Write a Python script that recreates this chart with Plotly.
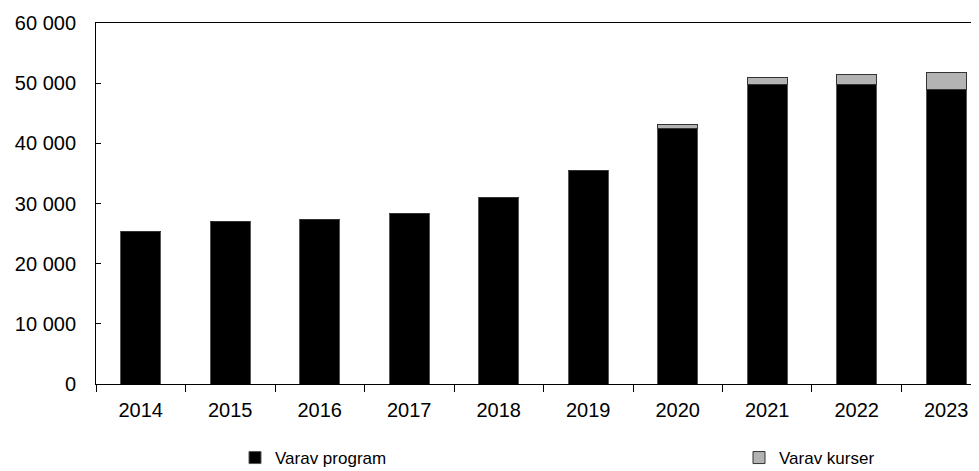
import plotly.graph_objects as go

years = ["2014", "2015", "2016", "2017", "2018", "2019", "2020", "2021", "2022", "2023"]
program = [25300, 27000, 27300, 28400, 31000, 35500, 42500, 49800, 49800, 48900]
kurser = [0, 0, 0, 0, 0, 0, 600, 1200, 1700, 2900]

FONT = "Liberation Sans, Arial, sans-serif"
# the page body has an 8px margin, so the figure is offset by 8px
OFF = 8
FIG_W = 979 - OFF
FIG_H = 471 - OFF
M_L = 96 - OFF
M_T = 23 - OFF
PLOT_W = FIG_W - M_L
PLOT_H = 384 - 23
M_B = FIG_H - M_T - PLOT_H

fig = go.Figure()
fig.add_trace(go.Bar(
    x=years, y=program, name="Varav program",
    marker=dict(color="#000000", line=dict(color="#555555", width=1)),
    width=0.45, legend="legend",
))
fig.add_trace(go.Bar(
    x=years, y=kurser, name="Varav kurser",
    marker=dict(color="#b3b3b3", line=dict(color="#333333", width=1)),
    width=0.45, legend="legend2",
))

leg_common = dict(
    orientation="h",
    y=-(458 - 384) / PLOT_H, yanchor="middle",
    xanchor="left",
    font=dict(family=FONT, size=17, color="#000000"),
    bgcolor="rgba(0,0,0,0)",
)

fig.update_layout(
    barmode="stack",
    width=FIG_W, height=FIG_H,
    margin=dict(l=M_L, r=0, t=M_T, b=M_B, autoexpand=False),
    paper_bgcolor="white", plot_bgcolor="white",
    font=dict(family=FONT, size=20, color="#000000"),
    separators=", ",
    showlegend=True,
    legend=dict(x=(235 - 96) / PLOT_W, **leg_common),
    legend2=dict(x=(739 - 96) / PLOT_W, **leg_common),
    xaxis=dict(
        type="category",
        range=[-0.5, 9.366],
        showline=True, linecolor="#000000", linewidth=1, mirror=True,
        ticks="outside", ticklen=7, tickcolor="#000000", tickwidth=1,
        tickson="boundaries",
        showgrid=False, zeroline=False,
        ticklabelstandoff=8,
        tickfont=dict(size=20),
    ),
    yaxis=dict(
        range=[0, 60000],
        dtick=10000,
        tickformat=",",
        showline=True, linecolor="#000000", linewidth=1,
        ticks="inside", ticklen=5, tickcolor="#000000",
        showgrid=False, zeroline=False,
        ticklabelstandoff=15,
        tickfont=dict(size=20),
    ),
)

fig.write_html("out.html")
